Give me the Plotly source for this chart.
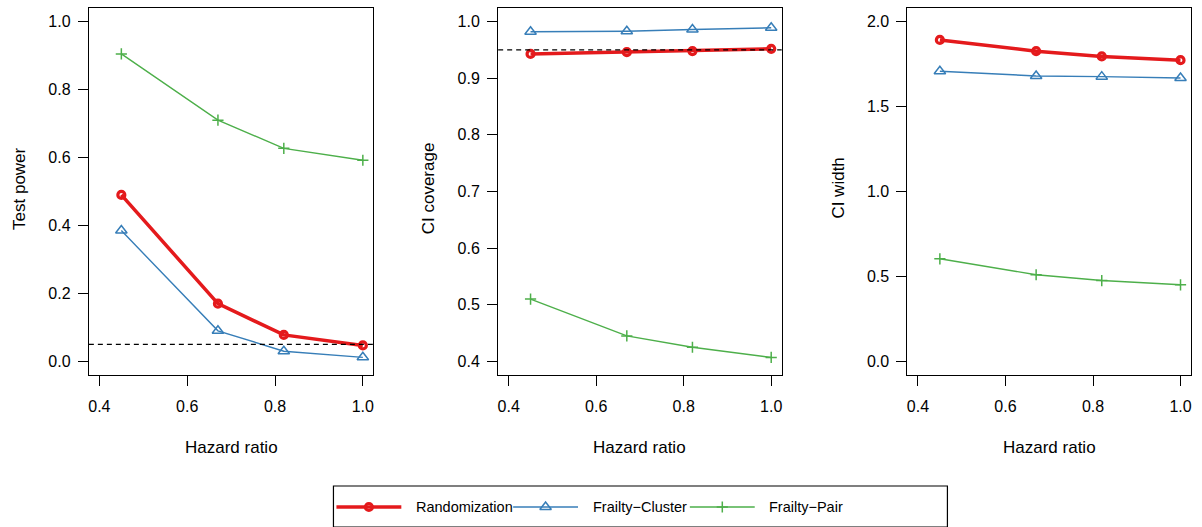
import plotly.graph_objects as go

# ---- data -------------------------------------------------------------
hazard_ratio = [0.45, 0.67, 0.82, 1.0]
methods = ["Randomization", "Frailty\u2212Cluster", "Frailty\u2212Pair"]

power_rand = [0.490, 0.170, 0.078, 0.047]
power_cluster = [0.385, 0.090, 0.030, 0.012]
power_pair = [0.905, 0.710, 0.627, 0.592]

coverage_rand = [0.943, 0.946, 0.948, 0.952]
coverage_cluster = [0.982, 0.983, 0.986, 0.989]
coverage_pair = [0.510, 0.445, 0.425, 0.407]

width_rand = [1.892, 1.826, 1.795, 1.773]
width_cluster = [1.708, 1.680, 1.676, 1.668]
width_pair = [0.604, 0.510, 0.476, 0.451]

nominal_level = 0.05
nominal_coverage = 0.95

x_ticks = [0.4, 0.6, 0.8, 1.0]
power_ticks = [0.0, 0.2, 0.4, 0.6, 0.8, 1.0]
coverage_ticks = [0.4, 0.5, 0.6, 0.7, 0.8, 0.9, 1.0]
width_ticks = [0.0, 0.5, 1.0, 1.5, 2.0]

y_titles = ["Test power", "CI coverage", "CI width"]
x_title = "Hazard ratio"

# ---- styling ----------------------------------------------------------
W, H = 1202, 527
FONT = "Liberation Sans, Arial, Helvetica, sans-serif"
colors = ["#E41A1C", "#377EB8", "#4DAF4A"]
line_widths = [3.5, 1.4, 1.4]
symbols = ["circle-open", "triangle-up-open", "cross-thin-open"]
marker_sizes = [7, 10, 8]
marker_lw = [3.2, 1.5, 1.5]


def px_x(p):
    return p / W


def px_y(p):
    return 1 - p / H


# panel boxes in pixels (left, right), common top/bottom
panel_px = [(88, 373), (498, 782), (908, 1192)]
box_top, box_bottom = 8, 375


def pad(lo, hi):
    d = (hi - lo) * 0.04
    return [lo - d, hi + d]


panels = [
    ([power_rand, power_cluster, power_pair], power_ticks, pad(0.0, 1.0), nominal_level),
    ([coverage_rand, coverage_cluster, coverage_pair], coverage_ticks, pad(0.4, 1.0), nominal_coverage),
    ([width_rand, width_cluster, width_pair], width_ticks, pad(0.0, 2.0), None),
]

fig = go.Figure()
layout = dict(
    width=W, height=H,
    margin=dict(l=0, r=0, t=0, b=0),
    paper_bgcolor="white", plot_bgcolor="rgba(0,0,0,0)",
    showlegend=False,
    font=dict(family=FONT, size=15, color="black"),
)
shapes = []
annotations = []

for i, (series, yticks, yrange, ref) in enumerate(panels):
    n = i + 1
    xa = "x" if n == 1 else f"x{n}"
    ya = "y" if n == 1 else f"y{n}"
    for k, vals in enumerate(series):
        fig.add_trace(go.Scatter(
            x=hazard_ratio, y=vals, xaxis=xa, yaxis=ya,
            mode="lines+markers", name=methods[k],
            line=dict(color=colors[k], width=line_widths[k]),
            marker=dict(symbol=symbols[k], size=marker_sizes[k], color=colors[k],
                        line=dict(color=colors[k], width=marker_lw[k])),
            hoverinfo="x+y+name",
        ))
    left, right = panel_px[i]
    axis_common = dict(
        showline=True, mirror=True, linecolor="black", linewidth=1.2,
        ticks="outside", ticklen=10, tickwidth=1.2, tickcolor="black",
        showgrid=False, zeroline=False,
        tickfont=dict(family=FONT, size=16, color="black"),
        fixedrange=True,
    )
    layout["xaxis" if n == 1 else f"xaxis{n}"] = dict(
        axis_common, domain=[px_x(left), px_x(right)], range=pad(0.4, 1.0),
        tickvals=x_ticks, tickformat=".1f", anchor=ya, ticklabelstandoff=7,
    )
    layout["yaxis" if n == 1 else f"yaxis{n}"] = dict(
        axis_common, domain=[px_y(box_bottom), px_y(box_top)], range=yrange,
        tickvals=yticks, tickformat=".1f", anchor=xa, ticklabelstandoff=4,
    )
    if ref is not None:
        shapes.append(dict(
            type="line", xref=f"{xa} domain", yref=ya, x0=0, x1=1, y0=ref, y1=ref,
            line=dict(color="black", width=1.3, dash="5px,4px"), layer="above",
        ))
    annotations.append(dict(
        text=x_title, xref="paper", yref="paper",
        x=px_x((left + right) / 2), y=px_y(447), xanchor="center", yanchor="middle",
        showarrow=False, font=dict(family=FONT, size=17, color="black"),
    ))
    annotations.append(dict(
        text=y_titles[i], xref="paper", yref="paper", textangle=-90,
        x=px_x(left - 69), y=px_y(188), xanchor="center", yanchor="middle",
        showarrow=False, font=dict(family=FONT, size=17, color="black"),
    ))

# ---- legend drawn on an overlay axis in pixel units --------------------
layout["xaxis4"] = dict(domain=[0, 1], range=[0, W], visible=False, fixedrange=True, anchor="y4")
layout["yaxis4"] = dict(domain=[0, 1], range=[H, 0], visible=False, fixedrange=True, anchor="x4")

legend_y = 507
key_left = [336, 513, 690]
key_len = 65
text_left = [414, 591, 767]
for k in range(3):
    x0 = key_left[k]
    fig.add_trace(go.Scatter(
        x=[x0, x0 + key_len], y=[legend_y, legend_y], xaxis="x4", yaxis="y4",
        mode="lines", line=dict(color=colors[k], width=line_widths[k]),
        hoverinfo="skip",
    ))
    fig.add_trace(go.Scatter(
        x=[x0 + key_len / 2], y=[legend_y], xaxis="x4", yaxis="y4",
        mode="markers",
        marker=dict(symbol=symbols[k], size=marker_sizes[k], color=colors[k],
                    line=dict(color=colors[k], width=marker_lw[k])),
        hoverinfo="skip",
    ))
    annotations.append(dict(
        text=methods[k], xref="x4", yref="y4", x=text_left[k], y=legend_y,
        xanchor="left", yanchor="middle", showarrow=False,
        font=dict(family=FONT, size=14.5, color="black"),
    ))
shapes.append(dict(
    type="rect", xref="x4", yref="y4", x0=333, x1=948, y0=486, y1=527,
    line=dict(color="black", width=1.2), fillcolor="rgba(0,0,0,0)",
))

layout["shapes"] = shapes
layout["annotations"] = annotations
fig.update_layout(**layout)
fig.write_html("out.html")
